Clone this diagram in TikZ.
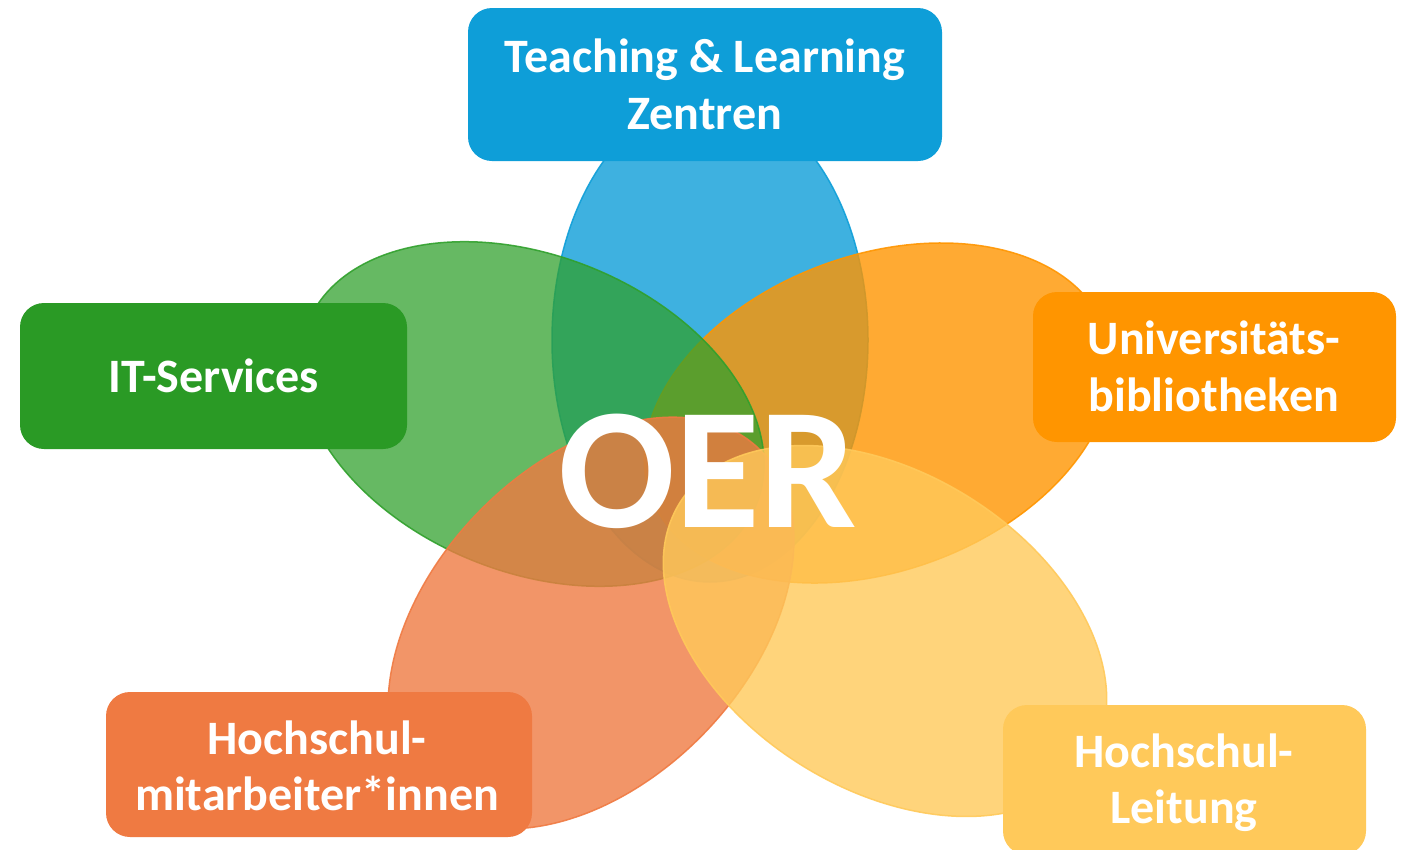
\documentclass[tikz,border=0pt]{standalone}
\usepackage{fontspec}
\setmainfont{Carlito}
\definecolor{cblue}{HTML}{0E9ED8}
\definecolor{cgreen}{HTML}{2A9A25}
\definecolor{cgreenpetal}{HTML}{30A02C}
\definecolor{corange}{HTML}{FF9500}
\definecolor{cred}{HTML}{EF7A42}
\definecolor{cyellow}{HTML}{FFC95A}
\begin{document}
\begin{tikzpicture}[x=1pt,y=-1pt,
  petal/.style={fill opacity=0.8, draw opacity=0.9, line width=1.5pt},
  boxnode/.style={rounded corners=24pt, inner sep=0pt, draw=none, rectangle},
  lbl/.style={text=white, font=\fontsize{48}{57}\selectfont\bfseries, anchor=base, inner sep=0pt},
  bigtext/.style={text=white, font=\fontsize{173}{173}\selectfont\bfseries, anchor=base, inner sep=0pt}
]
\useasboundingbox (0,0) rectangle (1406,849);
% petals
\path[petal, fill=cblue, draw=cblue] (710,340) ellipse [x radius=158pt, y radius=242pt];
\path[petal, fill=corange, draw=corange, rotate around={20:(878,413)}] (878,413) ellipse [x radius=242pt, y radius=158pt];
\path[petal, fill=cgreenpetal, draw=cgreenpetal, fill opacity=0.74, rotate around={-22:(532,414)}] (532,414) ellipse [x radius=242pt, y radius=158pt];
\path[petal, fill=cred, draw=cred, rotate around={46:(591,623)}] (591,623) ellipse [x radius=242pt, y radius=158pt];
\path[petal, fill=cyellow, draw=cyellow, rotate around={-32:(885,631)}] (885,631) ellipse [x radius=242pt, y radius=158pt];
% center text
\node[bigtext] (oer) at (708,527) {OER};
% boxes
\node[boxnode, fill=cblue, minimum width=474pt, minimum height=153pt] (tlz) at (705,84.5) {};
\node[lbl] (tlz1) at (705,72) {Teaching \& Learning};
\node[lbl] (tlz2) at (705,129) {Zentren};
\node[boxnode, fill=cgreen, minimum width=387pt, minimum height=146pt] (its) at (213.5,376) {};
\node[lbl] (its1) at (214,392) {IT-Services};
\node[boxnode, fill=corange, minimum width=363pt, minimum height=150pt] (ub) at (1214.5,367) {};
\node[lbl] (ub1) at (1214,354) {Universitäts-};
\node[lbl] (ub2) at (1214,411) {bibliotheken};
\node[boxnode, fill=cred, minimum width=426pt, minimum height=145pt] (hm) at (319,764.5) {};
\node[lbl] (hm1) at (317,754) {Hochschul-};
\node[lbl] (hm2) at (317,810) {mitarbeiter*innen};
\node[boxnode, fill=cyellow, minimum width=363pt, minimum height=150pt] (hl) at (1184.5,780) {};
\node[lbl] (hl1) at (1184,767) {Hochschul-};
\node[lbl] (hl2) at (1184,823) {Leitung};
\end{tikzpicture}
\end{document}
